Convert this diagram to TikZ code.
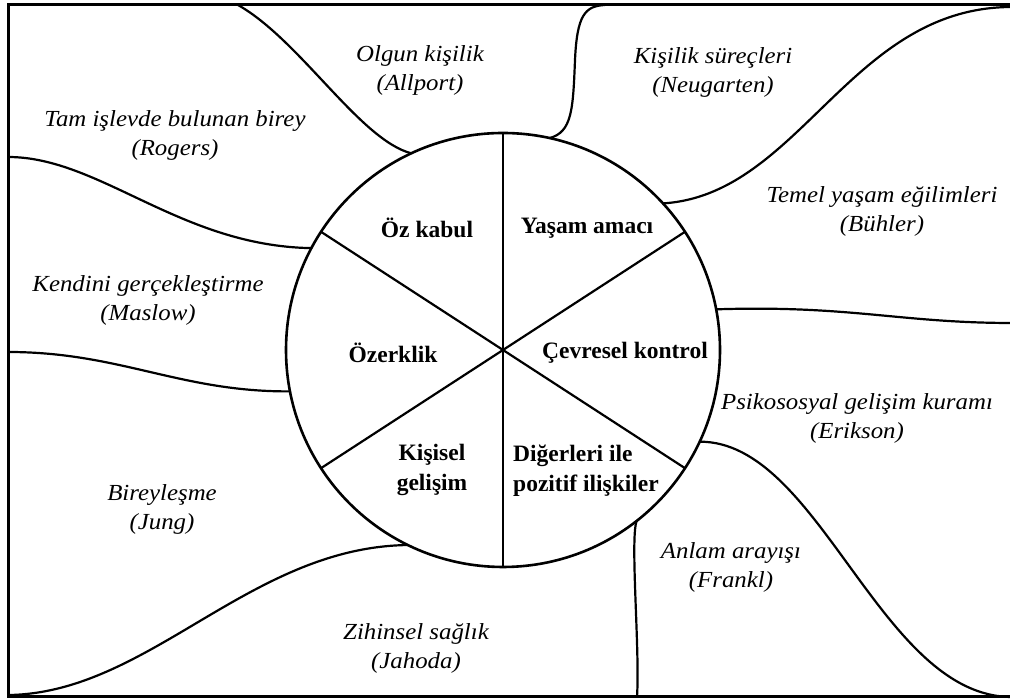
\documentclass[tikz,border=0pt]{standalone}
\usepackage{fontspec}
\setmainfont{Liberation Serif}
\newfontfamily\theoryfont{Liberation Serif}[FakeStretch=1.08]
\usetikzlibrary{calc}
\begin{document}
\begin{tikzpicture}[x=1pt,y=1pt,
  theory/.style={font=\theoryfont\itshape\fontsize{23}{29}\selectfont, align=center, inner sep=0pt},
  facet/.style={font=\bfseries\fontsize{23.5}{30}\selectfont, align=center, inner sep=0pt},
  border/.style={line width=3pt},
  rim/.style={line width=2.6pt},
  edge/.style={line width=2.2pt}]
\useasboundingbox (0,0) rectangle (1010,700);
\clip (0,0) rectangle (1010,700);
\def\wheelR{217}
\coordinate (c) at (503,350);

% outer frame (open to the right)
\draw[border] (1020,695) -- (8,695) -- (8,3) -- (1020,3);

% central wheel with six sectors
\draw[rim] (c) circle (\wheelR);
\draw[edge] ($(c)+(90:\wheelR)$) -- ($(c)+(270:\wheelR)$);
\draw[edge] ($(c)+(33:\wheelR)$) -- ($(c)+(213:\wheelR)$);
\draw[edge] ($(c)+(147:\wheelR)$) -- ($(c)+(327:\wheelR)$);

% points where the region boundaries meet the wheel
\coordinate (pA) at ($(c)+(115:\wheelR)$);
\coordinate (pB) at ($(c)+(152:\wheelR)$);
\coordinate (pC) at ($(c)+(191:\wheelR)$);
\coordinate (pD) at ($(c)+(244:\wheelR)$);
\coordinate (pE) at ($(c)+(308:\wheelR)$);
\coordinate (pF) at ($(c)+(335:\wheelR)$);
\coordinate (pG) at ($(c)+(10.8:\wheelR)$);
\coordinate (pH) at ($(c)+(42.5:\wheelR)$);
\coordinate (pI) at ($(c)+(77.6:\wheelR)$);

% region boundaries
\draw[edge] (238,695) .. controls (300,660) and (360,560) .. (pA);
\draw[edge] (8,543) .. controls (100,543) and (180,454) .. (pB);
\draw[edge] (8,348) .. controls (120,348) and (180,308) .. (pC);
\draw[edge] (10,5) .. controls (150,8) and (250,153) .. (pD);
\draw[edge] (pE) .. controls (630,160) and (640,50) .. (637,3);
\draw[edge] (pF) .. controls (820,259) and (880,3) .. (1012,3);
\draw[edge] (pG) .. controls (850,395) and (900,377) .. (1012,377);
\draw[edge] (pH) .. controls (800,505) and (850,693) .. (1012,693);
\draw[edge] (pI) .. controls (572,568) and (573,590) .. (575,640)
                 .. controls (577,685) and (585,694) .. (605,695);

% sector labels
\node[facet] (s1) at (427,472) {Öz kabul};
\node[facet] (s2) at (587,472) {Yaşam amacı};
\node[facet] (s3) at (393,347) {Özerklik};
\node[facet] (s4) at (625,347) {Çevresel kontrol};
\node[facet] (s5) at (432,230) {Kişisel\\gelişim};
\node[facet, align=left, anchor=west] (s6) at (513,229) {Diğerleri ile\\pozitif ilişkiler};

% theory labels
\node[theory] (t1) at (420,630) {Olgun kişilik\\(Allport)};
\node[theory] (t2) at (175,565) {Tam işlevde bulunan birey\\(Rogers)};
\node[theory] (t3) at (148,400) {Kendini gerçekleştirme\\(Maslow)};
\node[theory] (t4) at (713,628) {Kişilik süreçleri\\(Neugarten)};
\node[theory] (t5) at (882,489) {Temel yaşam eğilimleri\\(Bühler)};
\node[theory] (t6) at (857,282) {Psikososyal gelişim kuramı\\(Erikson)};
\node[theory] (t7) at (731,133) {Anlam arayışı\\(Frankl)};
\node[theory] (t8) at (162,191) {Bireyleşme\\(Jung)};
\node[theory] (t9) at (416,52) {Zihinsel sağlık\\(Jahoda)};
\end{tikzpicture}
\end{document}
